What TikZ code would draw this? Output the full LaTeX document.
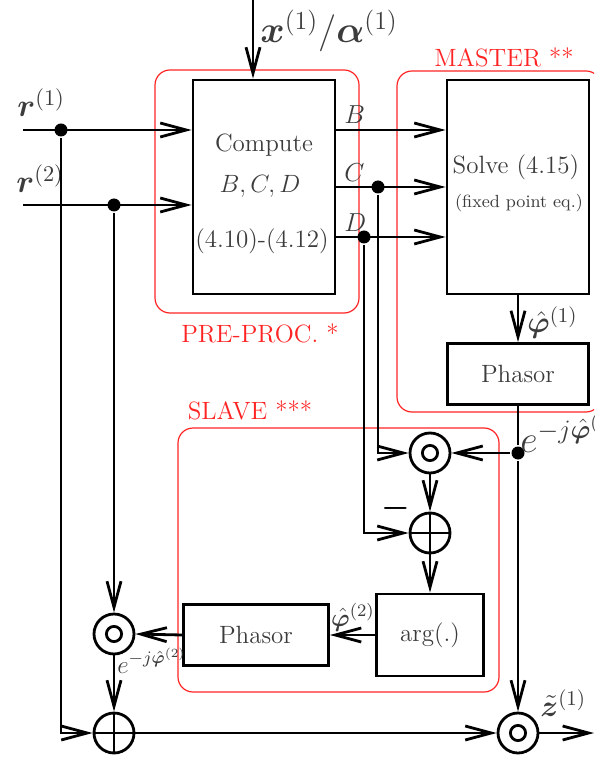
\RequirePackage{fix-cm}
\documentclass[tikz,border=0pt]{standalone}
\usepackage{amsmath,amssymb,bm}
\usepackage{xcolor}
\usepackage{tikz}
\usetikzlibrary{arrows.meta,calc,positioning}
\definecolor{txtgray}{RGB}{60,60,60}
\definecolor{grpred}{RGB}{255,35,35}

\tikzset{
  blk/.style={draw, line width=1.4pt, inner sep=0pt, text=txtgray, font=\fontsize{12.5}{15}\selectfont, align=center},
  txt/.style={text=txtgray, inner sep=0pt, anchor=base, font=\fontsize{12.5}{15}\selectfont},
  grp/.style={draw=grpred, line width=0.6pt, rounded corners=7.5pt},
  grplbl/.style={text=grpred, font=\fontsize{12.5}{15}\selectfont},
  mult/.style={circle, draw, line width=1.4pt, minimum size=20pt, inner sep=0pt,
    path picture={\draw[line width=1.4pt] (path picture bounding box.center) circle (3.8pt);}},
  summ/.style={circle, draw, line width=1.4pt, minimum size=20pt, inner sep=0pt,
    path picture={\draw[line width=1.4pt] (path picture bounding box.north) -- (path picture bounding box.south)
      (path picture bounding box.west) -- (path picture bounding box.east);}},
  jn/.style={circle, fill, minimum size=6.5pt, inner sep=0pt},
  sig/.style={text=txtgray, inner sep=0pt, anchor=base west},
}

\begin{document}
\begin{tikzpicture}[x=0.5pt, y=-0.5pt, line width=1.4pt, >={Straight Barb[length=13pt,width=7pt]}]
\useasboundingbox (0,0) rectangle (594,758);
\clip (0,0) rectangle (594,758);

\draw[grp] (155,70) rectangle (359,313);
\draw[grp] (397,71) rectangle (601,412);
\draw[grp] (178,428) rectangle (499,692);
\node[grplbl] (preL) at (260,333) {PRE-PROC. *};
\node[grplbl] (masterL) at (504,57) {MASTER **};
\node[grplbl] (slaveL) at (250,410) {SLAVE ***};

\node[blk, minimum width=71pt, minimum height=107pt] (compute) at (264,187) {};
\node[txt] (computeA) at (264,152) {Compute};
\node[txt] (computeB) at (260,193) {$B,C,D$};
\node[txt] (computeC) at (262,248) {(4.10)-(4.12)};
\node[blk, minimum width=71pt, minimum height=107pt] (solve) at (518,187) {};
\node[txt] (solveA) at (516,174) {Solve (4.15)};
\node[txt, font=\fontsize{8.8}{10}\selectfont] (solveB) at (519,208) {(fixed point eq.)};
\node[blk, minimum width=70.5pt, minimum height=30.5pt] (phasorA) at (518,374) {Phasor};
\node[blk, minimum width=53.5pt, minimum height=41pt] (arg) at (430,635) {arg(.)};
\node[blk, minimum width=72.5pt, minimum height=30.5pt] (phasorB) at (256,635) {Phasor};

\node[mult] (mult1) at (430,453) {};
\node[summ] (sum1) at (430,533) {};
\node[mult] (mult2) at (114,634) {};
\node[summ] (sum2) at (114,733) {};
\node[mult] (mult3) at (518,733) {};

\node[jn] (d1) at (61,130) {};
\node[jn] (d2) at (114,205) {};
\node[jn] (dC) at (378,187) {};
\node[jn] (dD) at (364,237) {};
\node[jn] (dE) at (518,453) {};

\coordinate (xin) at (253,0);
\coordinate (r1) at (23,130);
\coordinate (r2) at (23,205);
\coordinate (zout) at (594,733);

\draw[->] (xin) -- (xin |- compute.north);
\node[sig, font=\fontsize{18.5}{21}\selectfont] (xlbl) at (259,43) {$\bm{x}^{(1)}/\bm{\alpha}^{(1)}$};

\draw[->] (r1) -- (r1 -| compute.west);
\draw[->] (r2) -- (r2 -| compute.west);
\node[sig, font=\fontsize{16}{18}\selectfont] (r1lbl) at (16,117) {$\bm{r}^{(1)}$};
\node[sig, font=\fontsize{16}{18}\selectfont] (r2lbl) at (15,193) {$\bm{r}^{(2)}$};

\draw[->] (r1 -| compute.east) -- (r1 -| solve.west);
\draw[->] (compute.east) -- (solve.west);
\draw[->] (dD -| compute.east) -- (dD -| solve.west);
\node[sig, font=\fontsize{13}{15}\selectfont] (Blbl) at (343,124) {$B$};
\node[sig, font=\fontsize{13}{15}\selectfont] (Clbl) at (343,182) {$C$};
\node[sig, font=\fontsize{13}{15}\selectfont] (Dlbl) at (343,232) {$D$};

\draw[->] (solve.south) -- (phasorA.north);
\node[sig, font=\fontsize{15}{18}\selectfont] (phi1lbl) at (526,333) {$\hat{\bm{\varphi}}^{(1)}$};
\draw (phasorA.south) -- (dE);
\draw[->] (dE) -- (mult3.north);
\draw[->] (dE) -- (mult1.east);
\node[sig, font=\fontsize{19}{22}\selectfont] (e1lbl) at (519,452) {$e^{-j\hat{\bm{\varphi}}^{(1)}}$};

\draw[->] (dC) |- (mult1.west);
\draw[->] (dD) |- (sum1.west);
\draw[->] (mult1.south) -- (sum1.north);
\node[text=black, inner sep=0pt, font=\fontsize{16}{18}\selectfont] (minus) at (396,508) {$\bm{-}$};
\draw[->] (sum1.south) -- (arg.north);
\draw[->] (arg.west) -- (phasorB.east);
\node[sig, anchor=base east, font=\fontsize{12.5}{15}\selectfont] (phi2lbl) at (376,626) {$\hat{\bm{\varphi}}^{(2)}$};
\draw[->] (phasorB.west) -- (mult2.east);

\draw[->] (d2) -- (mult2.north);
\draw[->] (mult2.south) -- (sum2.north);
\node[sig, font=\fontsize{12.5}{15}\selectfont] (e2lbl) at (116,673) {$e^{-j\hat{\bm{\varphi}}^{(2)}}$};
\draw[->] (d1) |- (sum2.west);
\draw[->] (sum2.east) -- (mult3.west);
\draw[->] (mult3.east) -- (zout);
\node[sig, font=\fontsize{15}{18}\selectfont] (zlbl) at (539,716) {$\tilde{\bm{z}}^{(1)}$};

\end{tikzpicture}
\end{document}
